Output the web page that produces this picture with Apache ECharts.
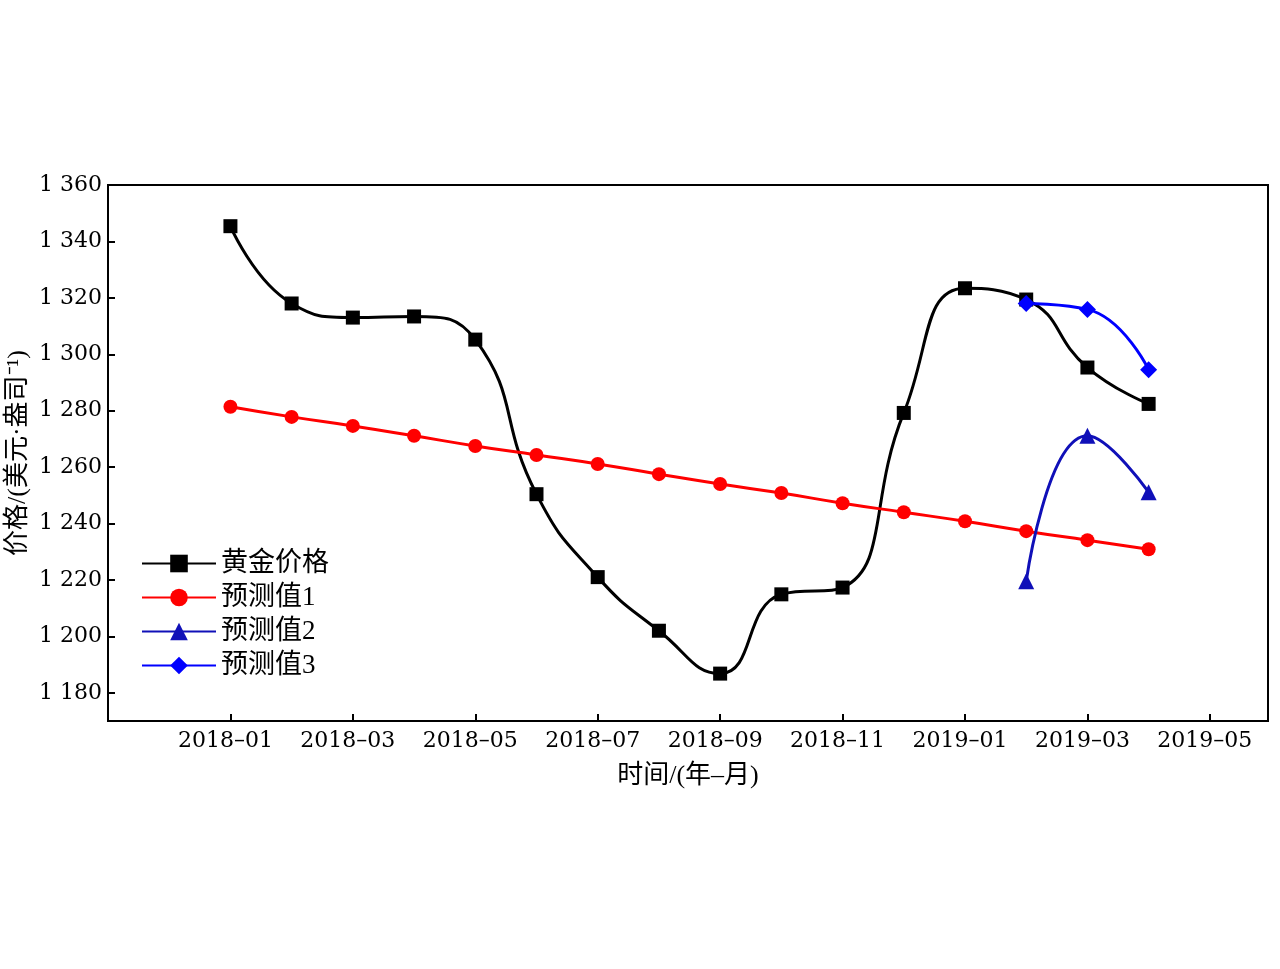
<!DOCTYPE html>
<html>
<head>
<meta charset="utf-8">
<script src="https://cdn.jsdelivr.net/npm/echarts@6/dist/echarts.min.js"></script>
<style>html,body{margin:0;padding:0;background:#fff}#c{width:1280px;height:969px}</style>
</head>
<body>
<div id="c"></div>
<script>
// ---- data ----
const months = ['2018-01','2018-02','2018-03','2018-04','2018-05','2018-06','2018-07','2018-08',
                '2018-09','2018-10','2018-11','2018-12','2019-01','2019-02','2019-03','2019-04'];
const goldPrice = [1345.4, 1318.0, 1313.0, 1313.4, 1305.2, 1250.4, 1221.0, 1202.0,
                   1186.8, 1214.9, 1217.3, 1279.2, 1323.4, 1319.4, 1295.3, 1282.4];
const forecast1 = [1281.4, 1277.8, 1274.6, 1271.1, 1267.5, 1264.3, 1261.1, 1257.5,
                   1254.0, 1250.8, 1247.2, 1244.0, 1240.8, 1237.3, 1234.1, 1230.9];
const forecastMonths = ['2019-02','2019-03','2019-04'];
const forecast2 = [1219.5, 1271.1, 1251.1];
const forecast3 = [1318.0, 1315.9, 1294.5];
const seriesNames = ['黄金价格', '预测值1', '预测值2', '预测值3'];
const xAxisName = '时间/(年–月)';
const yAxisName = '价格/(美元·盎司⁻¹)';

// ---- helpers ----
function monthIndex(s) { const [y, m] = s.split('-').map(Number); return (y - 2018) * 12 + (m - 1); }
function pairs(ms, vals) { return ms.map((m, i) => [monthIndex(m), vals[i]]); }
function xLabel(v) {
  if (Math.abs(v - Math.round(v)) > 1e-6) return '';
  v = Math.round(v);
  if (v < 0 || v % 2 !== 0) return '';
  const y = 2018 + Math.floor(v / 12), m = v % 12 + 1;
  return y + '–' + (m < 10 ? '0' + m : m);
}
function yLabel(v) {
  if (Math.abs(v % 20) > 1e-6) return '';
  return String(Math.round(v)).replace(/(\d)(\d{3})$/, '$1 $2');
}

const serif = 'DejaVu Serif';
const mixed = '"Liberation Serif", "Noto Sans CJK SC", serif';

const chart = echarts.init(document.getElementById('c'));
chart.setOption({
  backgroundColor: '#fff',
  animation: false,
  grid: { left: 108, right: 12, top: 185, bottom: 248, containLabel: false, outerBoundsMode: 'none',
          show: true, borderColor: '#000', borderWidth: 2, backgroundColor: 'transparent' },
  legend: {
    orient: 'vertical', left: 136, top: 545, itemWidth: 74, itemHeight: 22, itemGap: 7,
    data: seriesNames,
    textStyle: { fontSize: 27, color: '#000', fontFamily: mixed }
  },
  xAxis: {
    type: 'value', min: -2, max: 16.95, minInterval: 2, maxInterval: 2, splitNumber: 9,
    name: xAxisName, nameLocation: 'middle', nameGap: 42,
    nameTextStyle: { fontSize: 26, color: '#000', fontFamily: mixed },
    axisLine: { show: true, onZero: false, lineStyle: { color: '#000', width: 2 } },
    axisTick: { show: true, inside: true, length: 7, lineStyle: { color: '#000', width: 2 } },
    axisLabel: { show: true, formatter: xLabel, showMinLabel: false, showMaxLabel: false,
                 fontSize: 22, color: '#000', fontFamily: serif, margin: 9, padding: [0, 10, 0, 0] },
    splitLine: { show: false }
  },
  yAxis: {
    type: 'value', min: 1170, max: 1360, minInterval: 20, maxInterval: 20, splitNumber: 10,
    name: yAxisName, nameLocation: 'middle', nameGap: 77, nameRotate: 90, nameMoveOverlap: false,
    nameTextStyle: { fontSize: 26, color: '#000', fontFamily: mixed },
    axisLine: { show: true, onZero: false, lineStyle: { color: '#000', width: 2 } },
    axisTick: { show: true, inside: true, length: 7, lineStyle: { color: '#000', width: 2 } },
    axisLabel: { show: true, formatter: yLabel, showMinLabel: false,
                 fontSize: 22, color: '#000', fontFamily: serif, margin: 6 },
    splitLine: { show: false }
  },
  series: [
    { name: seriesNames[0], type: 'line', smooth: 0.5, data: pairs(months, goldPrice),
      symbol: 'rect', symbolSize: 14, itemStyle: { color: '#000' }, lineStyle: { color: '#000', width: 3 } },
    { name: seriesNames[1], type: 'line', smooth: 0.5, data: pairs(months, forecast1),
      symbol: 'circle', symbolSize: 14, itemStyle: { color: '#ff0000' }, lineStyle: { color: '#ff0000', width: 3 } },
    { name: seriesNames[2], type: 'line', smooth: 0.5, data: pairs(forecastMonths, forecast2),
      symbol: 'triangle', symbolSize: 16, itemStyle: { color: '#1010b8' }, lineStyle: { color: '#1010b8', width: 3 } },
    { name: seriesNames[3], type: 'line', smooth: 0.5, data: pairs(forecastMonths, forecast3),
      symbol: 'diamond', symbolSize: 17, itemStyle: { color: '#0000ff' }, lineStyle: { color: '#0000ff', width: 3 } }
  ]
});
</script>
</body>
</html>
